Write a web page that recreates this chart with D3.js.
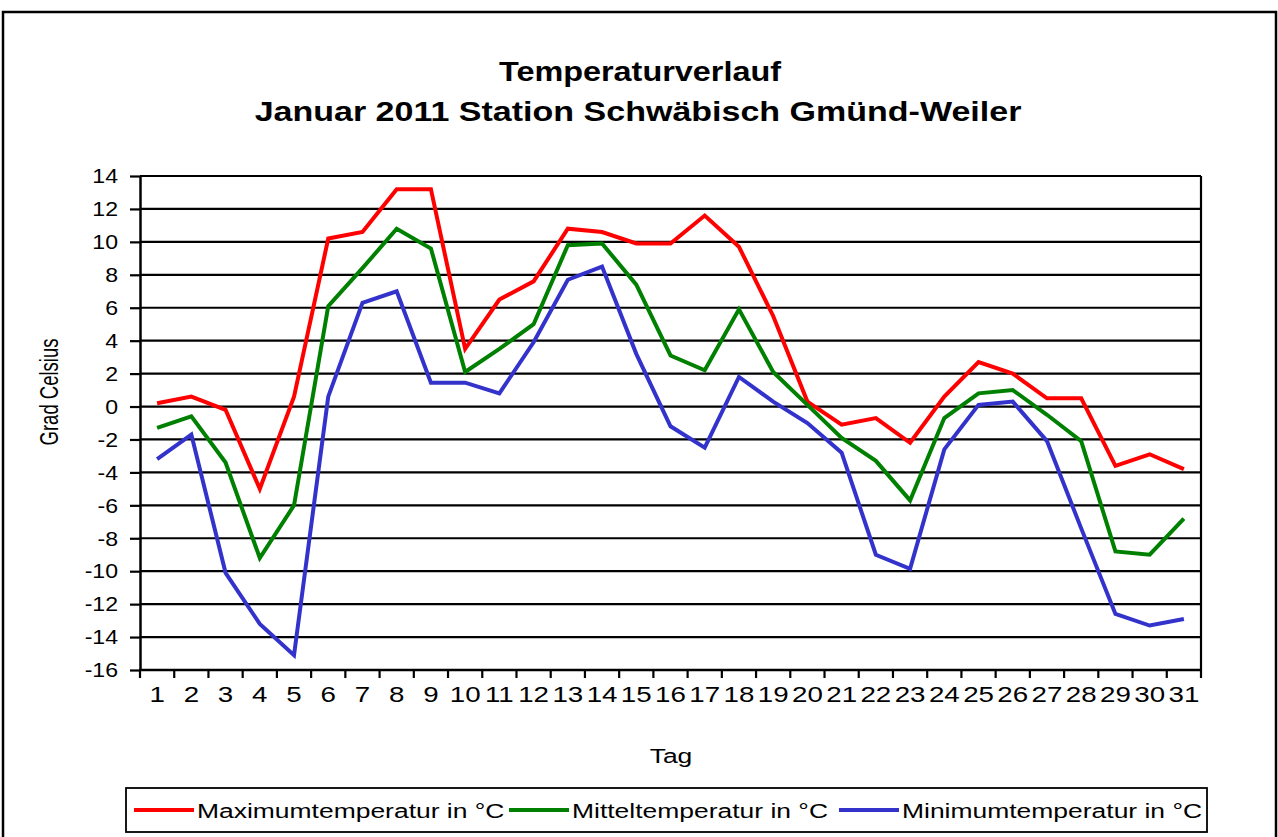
<!DOCTYPE html>
<html>
<head>
<meta charset="utf-8">
<script src="https://cdnjs.cloudflare.com/ajax/libs/d3/7.8.5/d3.min.js"></script>
<style>
  body { margin: 0; background: #fff; }
  svg text { font-family: "Liberation Sans", Arial, sans-serif; fill: #000; }
</style>
</head>
<body>
<div id="vis"></div>
<script>
// Januar 2011, Station Schwäbisch Gmünd-Weiler
const days = d3.range(1, 32);
const maxTemp = [0.2, 0.6, -0.2, -5.0, 0.6, 10.2, 10.6, 13.2, 13.2, 3.5,
                 6.5, 7.6, 10.8, 10.6, 9.9, 9.9, 11.6, 9.7, 5.5, 0.3,
                 -1.1, -0.7, -2.2, 0.6, 2.7, 2.0, 0.5, 0.5, -3.6, -2.9, -3.8];
const meanTemp = [-1.3, -0.6, -3.4, -9.2, -6.0, 6.1, 8.4, 10.8, 9.6, 2.1,
                  3.5, 5.0, 9.8, 9.9, 7.4, 3.1, 2.2, 5.9, 2.1, 0.1,
                  -1.9, -3.3, -5.7, -0.7, 0.8, 1.0, -0.5, -2.1, -8.8, -9.0, -6.8];
const minTemp = [-3.2, -1.7, -10.1, -13.2, -15.1, 0.6, 6.3, 7.0, 1.45, 1.45,
                 0.8, 3.9, 7.7, 8.5, 3.2, -1.2, -2.5, 1.8, 0.3, -1.0,
                 -2.8, -9.0, -9.85, -2.6, 0.1, 0.3, -2.1, -7.4, -12.6, -13.3, -12.9];
const yTicks = d3.range(-16, 15, 2);
const seriesNames = ["Maximumtemperatur in °C", "Mitteltemperatur in °C", "Minimumtemperatur in °C"];
const seriesColors = ["#ff0000", "#008000", "#3333cc"];
const series = [maxTemp, meanTemp, minTemp];

const width = 1278, height = 837;
const stretch = 1.26; // the original picture is widened horizontally
const svg = d3.select("#vis").append("svg")
    .attr("width", width)
    .attr("height", height);

// text with horizontal stretch
function label(g, x, y, txt, size, sx, anchor, weight) {
  return g.append("text")
      .attr("transform", `translate(${x},${y}) scale(${sx},1)`)
      .attr("text-anchor", anchor || "start")
      .attr("font-size", size)
      .attr("font-weight", weight || "normal")
      .text(txt);
}

// outer frame
svg.append("rect")
    .attr("x", 3).attr("y", 12)
    .attr("width", 1273).attr("height", 860)
    .attr("fill", "none").attr("stroke", "#000").attr("stroke-width", 2.5);

// title
label(svg, 640, 81, "Temperaturverlauf", 27, 1.2, "middle", "bold");
label(svg, 638, 121, "Januar 2011 Station Schwäbisch Gmünd-Weiler", 27, stretch, "middle", "bold");

const plotLeft = 140, plotRight = 1201, plotTop = 176, plotBottom = 670;
const x = d3.scaleBand().domain(days).range([plotLeft, plotRight]);
const y = d3.scaleLinear().domain([-16, 14]).range([plotBottom, plotTop]);

// horizontal gridlines
svg.append("g").selectAll("line")
    .data(yTicks)
    .join("line")
    .attr("x1", plotLeft).attr("x2", plotRight)
    .attr("y1", d => y(d)).attr("y2", d => y(d))
    .attr("stroke", "#000").attr("stroke-width", 2.2);

// right border of plot
svg.append("line")
    .attr("x1", plotRight).attr("x2", plotRight).attr("y1", plotTop).attr("y2", plotBottom)
    .attr("stroke", "#000").attr("stroke-width", 2.2);

// y axis
const yAxis = svg.append("g")
    .attr("transform", `translate(${plotLeft},0)`)
    .call(d3.axisLeft(y).tickValues(yTicks).tickSize(10).tickSizeOuter(0));
yAxis.select(".domain").attr("stroke-width", 2.5);
yAxis.selectAll(".tick line").attr("stroke-width", 2.2);
yAxis.selectAll(".tick text")
    .attr("x", null)
    .attr("transform", "translate(-22,0) scale(1.1,1)")
    .attr("font-size", 21).attr("font-family", "Liberation Sans, Arial, sans-serif")
    .text(d => d < 0 ? "-" + Math.abs(d) : d);

// x axis: ticks between categories
const xAxisG = svg.append("g").attr("transform", `translate(0,${plotBottom})`);
xAxisG.append("line").attr("x1", plotLeft - 1).attr("x2", plotRight + 1)
    .attr("stroke", "#000").attr("stroke-width", 2.5);
const boundaries = days.map(d => x(d)).concat([plotRight]);
xAxisG.selectAll("line.tick")
    .data(boundaries)
    .join("line").attr("class", "tick")
    .attr("x1", d => d).attr("x2", d => d)
    .attr("y1", 0).attr("y2", 8)
    .attr("stroke", "#000").attr("stroke-width", 2.2);
xAxisG.selectAll("text")
    .data(days)
    .join("text")
    .attr("transform", d => `translate(${x(d) + x.bandwidth() / 2},32) scale(${stretch},1)`)
    .attr("text-anchor", "middle")
    .attr("font-size", 22)
    .text(d => d);

// axis titles
svg.append("text")
    .attr("transform", `translate(58,392) rotate(-90) scale(1,1.35)`)
    .attr("text-anchor", "middle").attr("font-size", 18.5)
    .text("Grad Celsius");
label(svg, 671, 763, "Tag", 21, stretch, "middle");

// lines
const line = d3.line()
    .x((d, i) => x(days[i]) + x.bandwidth() / 2)
    .y(d => y(d));
svg.append("g").selectAll("path")
    .data(series)
    .join("path")
    .attr("fill", "none")
    .attr("stroke", (d, i) => seriesColors[i])
    .attr("stroke-width", 4)
    .attr("stroke-linejoin", "miter")
    .attr("d", d => line(d));

// legend
const legend = svg.append("g");
legend.append("rect")
    .attr("x", 126).attr("y", 788)
    .attr("width", 1081).attr("height", 44)
    .attr("fill", "#fff").attr("stroke", "#000").attr("stroke-width", 1.8);
const legendX = [134, 509, 839];
const items = legend.selectAll("g.item")
    .data(seriesNames)
    .join("g").attr("class", "item")
    .attr("transform", (d, i) => `translate(${legendX[i]},810)`);
items.append("line")
    .attr("x1", 0).attr("x2", 60).attr("y1", 0).attr("y2", 0)
    .attr("stroke", (d, i) => seriesColors[i]).attr("stroke-width", 4);
items.append("text")
    .attr("transform", `translate(63,8) scale(${stretch},1)`)
    .attr("font-size", 21)
    .text(d => d);
</script>
</body>
</html>
